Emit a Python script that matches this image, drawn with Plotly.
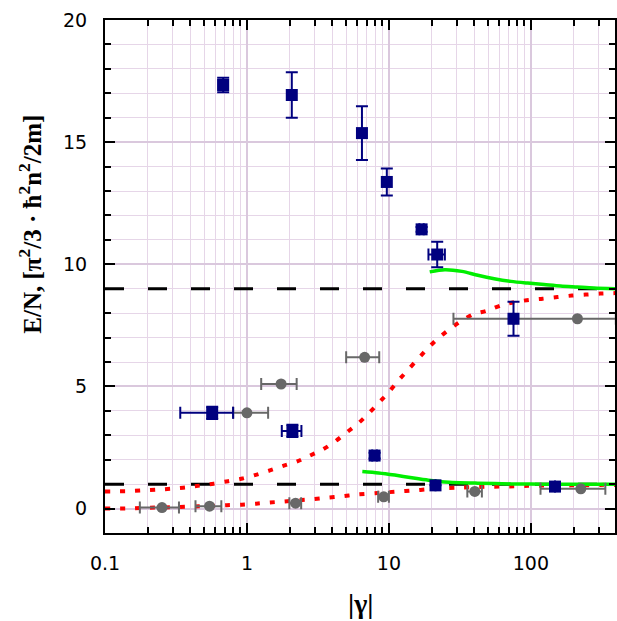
import plotly.graph_objects as go

# Experimental points (filled squares) with error bars
sq_x = [0.68, 2.07, 6.46, 9.67, 17.0, 21.9, 75.5, 0.569, 2.09, 7.93, 21.3, 148]
sq_y = [17.34, 16.93, 15.37, 13.37, 11.43, 10.4, 7.77, 3.92, 3.18, 2.17, 0.95, 0.9]
sq_yerr = [0.3, 0.93, 1.1, 0.55, 0.1, 0.52, 0.7, 0.25, 0.25, 0.12, 0.0, 0.0]
sq_xerr = [0.05, 0.0, 0.0, 0.0, 0.6, 2.9, 0.0, 0.23, 0.33, 0.3, 0.0, 0.0]

# Reference points (grey circles) with horizontal error bars
ci_x = [213, 6.75, 1.74, 1.0, 0.252, 0.545, 2.2, 9.2, 40.3, 225]
ci_y = [7.77, 6.19, 5.1, 3.92, 0.04, 0.1, 0.22, 0.48, 0.70, 0.81]
ci_xerr_plus = [184, 1.8, 0.5, 0.41, 0.08, 0.115, 0.21, 0.8, 4.9, 110]
ci_xerr_minus = [184.5, 1.75, 0.48, 0.2, 0.076, 0.111, 0.21, 0.8, 4.6, 108]

# Upper dotted curve
up_red_x = [0.1, 0.144, 0.182, 0.23, 0.29, 0.368, 0.463, 0.584, 0.736, 0.931, 1.156,
            1.45, 1.8, 2.26, 2.78, 3.43, 4.21, 5.02, 6.06, 7.19, 8.45, 9.93, 11.5,
            18.5, 21.9, 26.2, 31.6, 39.2, 48.6, 61.8, 76.7, 96.6, 121, 154, 195,
            244, 308, 392]
up_red_y = [0.70, 0.71, 0.74, 0.77, 0.81, 0.86, 0.94, 1.02, 1.12, 1.23, 1.38,
            1.56, 1.75, 1.93, 2.17, 2.42, 2.76, 3.11, 3.48, 3.89, 4.32, 4.75, 5.2,
            6.52, 6.94, 7.30, 7.64, 7.95, 8.09, 8.32, 8.45, 8.54, 8.59, 8.66, 8.72,
            8.76, 8.80, 8.82]

# Lower dotted curve
lo_red_x = [0.1, 0.142, 0.18, 0.224, 0.285, 0.364, 0.458, 0.575, 0.72, 0.92, 1.16,
            1.45, 1.83, 2.3, 2.88, 3.65, 4.64, 5.85, 8.0, 11.7, 14.8, 18.9, 23.4,
            29.9, 47.8, 60.0, 76.4, 95.8, 120, 154, 194, 244, 307, 392]
lo_red_y = [0.0, 0.0, 0.03, 0.04, 0.05, 0.07, 0.09, 0.11, 0.14, 0.16, 0.20,
            0.25, 0.29, 0.34, 0.38, 0.44, 0.50, 0.57, 0.63, 0.70, 0.74, 0.79, 0.83,
            0.85, 0.89, 0.90, 0.91, 0.93, 0.94, 0.94, 0.95, 0.95, 0.97, 0.97]

# Solid green curves
up_grn_x = [19.4, 24.8, 32.7, 42.3, 55.2, 72.5, 94.9, 124, 162, 212, 278, 392]
up_grn_y = [9.69, 9.78, 9.71, 9.55, 9.41, 9.30, 9.23, 9.17, 9.11, 9.07, 9.03, 9.0]
lo_grn_x = [6.5, 8.45, 11.0, 14.5, 19.0, 24.8, 42.3, 72.5, 124, 392]
lo_grn_y = [1.52, 1.46, 1.37, 1.26, 1.16, 1.09, 1.04, 1.01, 1.0, 1.0]

# Horizontal reference levels
levels = [9, 1]
x_span = [0.1, 392]

x_major = [0.1, 1, 10, 100]
x_major_text = ["0.1", "1", "10", "100"]
y_major = [0, 5, 10, 15, 20]

NAVY = "#00007f"
GREY = "#686868"

fig = go.Figure()

for lv in levels:
    fig.add_trace(go.Scatter(x=x_span, y=[lv, lv], mode="lines",
                             line=dict(color="black", width=3, dash="19px,24px"),
                             hoverinfo="skip"))

for xs, ys in ((up_red_x, up_red_y), (lo_red_x, lo_red_y)):
    fig.add_trace(go.Scatter(x=xs, y=ys, mode="lines",
                             line=dict(color="#ff0000", width=4, dash="5px,10px",
                                       shape="spline", smoothing=0.6)))

for xs, ys in ((up_grn_x, up_grn_y), (lo_grn_x, lo_grn_y)):
    fig.add_trace(go.Scatter(x=xs, y=ys, mode="lines",
                             line=dict(color="#00ee00", width=3.5,
                                       shape="spline", smoothing=0.8)))

fig.add_trace(go.Scatter(
    x=ci_x, y=ci_y, mode="markers",
    marker=dict(symbol="circle", size=11, color=GREY),
    error_x=dict(type="data", symmetric=False, array=ci_xerr_plus,
                 arrayminus=ci_xerr_minus, color=GREY, thickness=2, width=6),
))

fig.add_trace(go.Scatter(
    x=sq_x, y=sq_y, mode="markers",
    marker=dict(symbol="square", size=12, color=NAVY),
    error_y=dict(type="data", array=sq_yerr, color=NAVY, thickness=2, width=6),
    error_x=dict(type="data", array=sq_xerr, color=NAVY, thickness=2, width=6),
))

tick_font = dict(family="DejaVu Sans", size=19, color="black")

fig.update_xaxes(
    type="log", range=[-1, 2.593],
    tickvals=x_major, ticktext=x_major_text,
    ticks="inside", ticklen=10, tickwidth=2, tickcolor="black",
    showline=True, linecolor="black", linewidth=2, mirror="ticks",
    showgrid=True, gridcolor="#dac8dd", gridwidth=2,
    minor=dict(dtick="D1", ticks="inside", ticklen=6, tickwidth=1.5,
               tickcolor="black", showgrid=True, gridcolor="#e6d6e8", gridwidth=1),
    tickfont=tick_font, ticklabelstandoff=12, zeroline=False,
)
fig.update_yaxes(
    range=[-1, 20], tickvals=y_major,
    ticks="inside", ticklen=10, tickwidth=2, tickcolor="black",
    showline=True, linecolor="black", linewidth=2, mirror="ticks",
    showgrid=True, gridcolor="#dac8dd", gridwidth=2,
    minor=dict(dtick=1, tick0=0, ticks="inside", ticklen=6, tickwidth=1.5,
               tickcolor="black", showgrid=True, gridcolor="#e6d6e8", gridwidth=1),
    tickfont=tick_font, ticklabelstandoff=12, zeroline=False,
)

fig.add_annotation(
    text="<b>E/N, [π<sup>2</sup>/3 · ħ<sup>2</sup>n<sup>2</sup>/2m]</b>",
    xref="paper", yref="paper", x=-0.146, y=0.602, textangle=-90,
    showarrow=False, xanchor="center", yanchor="middle",
    font=dict(family="Liberation Serif", size=25, color="black"),
)
fig.add_annotation(
    text="<b>|γ|</b>", xref="paper", yref="paper", x=0.5, y=-0.138,
    showarrow=False, xanchor="center", yanchor="middle",
    font=dict(family="Liberation Serif", size=28, color="black"),
)

fig.update_layout(
    width=617, height=621,
    margin=dict(l=105, r=0, t=20, b=88),
    paper_bgcolor="white", plot_bgcolor="white",
    showlegend=False,
)

fig.write_html("out.html")
